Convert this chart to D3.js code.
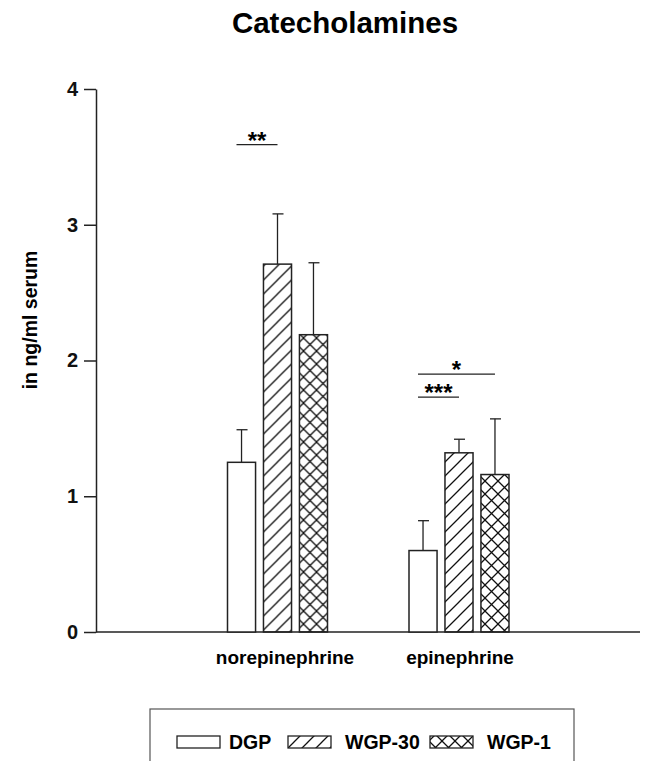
<!DOCTYPE html>
<html lang="en">
<head>
<meta charset="utf-8" />
<title>Catecholamines</title>
<script src="https://cdn.jsdelivr.net/npm/d3@7/dist/d3.min.js"></script>
<style>
  html, body { margin: 0; background: #fff; }
  svg { display: block; font-family: "Liberation Sans", Arial, sans-serif; }
</style>
</head>
<body>
<script>
// values
const categories = ["norepinephrine", "epinephrine"];
const groups = ["DGP", "WGP-30", "WGP-1"];
const means = [
  [1.25, 2.71, 2.19],   // norepinephrine
  [0.60, 1.32, 1.16]    // epinephrine
];
const errs = [
  [0.24, 0.37, 0.53],
  [0.22, 0.10, 0.41]
];
const yTicks = [0, 1, 2, 3, 4];
// significance bars: category, from group, to group, label, level
const sig = [
  { cat: 0, from: 0, to: 1, label: "**",  y: 3.59 },
  { cat: 1, from: 0, to: 2, label: "*",   y: 1.90 },
  { cat: 1, from: 0, to: 1, label: "***", y: 1.73 }
];

const W = 647, H = 761;
const svg = d3.select("body").append("svg").attr("width", W).attr("height", H);
const defs = svg.append("defs");

// hatch patterns
const diag = defs.append("pattern").attr("id", "diag")
  .attr("patternUnits", "userSpaceOnUse").attr("width", 14).attr("height", 14);
diag.append("path").attr("d", "M-1,1 L1,-1 M0,14 L14,0 M13,15 L15,13")
  .attr("stroke", "#111").attr("stroke-width", 1.3);

const cross = defs.append("pattern").attr("id", "cross")
  .attr("patternUnits", "userSpaceOnUse").attr("width", 13).attr("height", 13);
cross.append("path").attr("d", "M0,0 L13,13 M0,13 L13,0")
  .attr("stroke", "#111").attr("stroke-width", 1.3);

const fills = ["#fff", "url(#diag)", "url(#cross)"];

const y = d3.scaleLinear().domain([0, 4]).range([632, 89]);
// centres of the two bar groups along the x axis
const groupCenter = d3.scaleOrdinal().domain(categories).range([277.5, 459]);
const x1 = d3.scaleBand().domain(groups).range([-50, 50]).paddingInner(0.22).paddingOuter(0);

// title
svg.append("text").attr("x", 345).attr("y", 33).attr("text-anchor", "middle")
  .attr("font-size", 29.5).attr("font-weight", "bold").text("Catecholamines");

// y axis
const yAxis = svg.append("g").attr("transform", "translate(96,0)")
  .call(d3.axisLeft(y).tickValues(yTicks).tickFormat(d3.format("d")).tickSize(12).tickSizeOuter(0));
yAxis.select(".domain").attr("stroke", "#222").attr("stroke-width", 1.5);
yAxis.selectAll(".tick line").attr("stroke", "#222").attr("stroke-width", 1.5);
yAxis.selectAll(".tick text").attr("font-size", 20).attr("font-weight", "bold")
  .attr("font-family", "Liberation Sans, Arial, sans-serif").attr("fill", "#111").attr("x", -18);

// x axis line
svg.append("line").attr("x1", 96).attr("x2", 640).attr("y1", y(0)).attr("y2", y(0))
  .attr("stroke", "#222").attr("stroke-width", 1.5);

svg.append("text").attr("transform", "translate(37,320) rotate(-90)")
  .attr("text-anchor", "middle").attr("font-size", 19.5).attr("font-weight", "bold")
  .text("in ng/ml serum");

// bars
const labelX = [285, 460];
categories.forEach((c, ci) => {
  const g = svg.append("g").attr("transform", `translate(${groupCenter(c)},0)`);
  groups.forEach((gr, gi) => {
    const bx = x1(gr), bw = x1.bandwidth();
    const cx = bx + bw / 2;
    const top = y(means[ci][gi] + errs[ci][gi]);
    g.append("line").attr("x1", cx).attr("x2", cx)
      .attr("y1", y(means[ci][gi])).attr("y2", top)
      .attr("stroke", "#222").attr("stroke-width", 1.3);
    g.append("line").attr("x1", cx - 5).attr("x2", cx + 6)
      .attr("y1", top).attr("y2", top)
      .attr("stroke", "#222").attr("stroke-width", 1.3);
    g.append("rect").attr("x", bx).attr("width", bw)
      .attr("y", y(means[ci][gi])).attr("height", y(0) - y(means[ci][gi]))
      .attr("fill", fills[gi]).attr("stroke", "#222").attr("stroke-width", 1.5);
  });
  svg.append("text").attr("x", labelX[ci]).attr("y", 664).attr("text-anchor", "middle")
    .attr("font-size", 19).attr("font-weight", "bold").text(c);
});

// significance markers
sig.forEach(s => {
  const c = categories[s.cat];
  const xa = groupCenter(c) + x1(groups[s.from]) + 9;
  const xb = groupCenter(c) + x1(groups[s.to]) + x1.bandwidth() / 2;
  const yy = y(s.y);
  svg.append("line").attr("x1", xa).attr("x2", xb).attr("y1", yy).attr("y2", yy)
    .attr("stroke", "#222").attr("stroke-width", 1.2);
  svg.append("text").attr("x", (xa + xb) / 2).attr("y", yy + 4).attr("text-anchor", "middle")
    .attr("font-size", 24).attr("font-weight", "bold").text(s.label);
});

// legend
svg.append("rect").attr("x", 150).attr("y", 709).attr("width", 424).attr("height", 70)
  .attr("fill", "#fff").attr("stroke", "#555").attr("stroke-width", 1.2);
const legendX = [[177, 229], [288, 345], [430, 487]];
groups.forEach((gr, gi) => {
  const [sx, tx] = legendX[gi];
  svg.append("rect").attr("x", sx).attr("y", 736).attr("width", 43).attr("height", 12)
    .attr("fill", fills[gi]).attr("stroke", "#222").attr("stroke-width", 1.3);
  svg.append("text").attr("x", tx).attr("y", 749).attr("font-size", 19.5)
    .attr("font-weight", "bold").text(gr);
});
</script>
</body>
</html>
